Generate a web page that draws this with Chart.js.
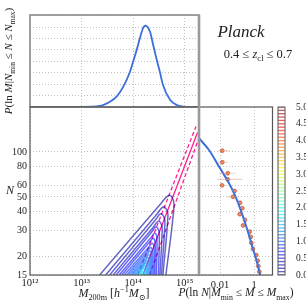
<!DOCTYPE html>
<html>
<head>
<meta charset="utf-8">
<script src="https://cdn.jsdelivr.net/npm/chart.js@4.4.1/dist/chart.umd.min.js"></script>
<style>
  html, body { margin: 0; padding: 0; background: #fff; }
  #wrap { position: relative; width: 306px; height: 306px; overflow: hidden;
          font-family: "Liberation Serif", "DejaVu Serif", serif; color: #222; }
  #wrap canvas { position: absolute; left: 0; top: 0; }
  .lbl { position: absolute; white-space: nowrap; line-height: 1; transform: translate(-50%, -50%); }
  .lbl sub, .lbl sup { font-size: 68%; line-height: 0; }
  .lbl i { font-style: italic; }
</style>
</head>
<body>
<div id="wrap">
  <canvas id="cTop" width="306" height="306"></canvas>
  <canvas id="cMain" width="306" height="306"></canvas>
  <canvas id="cSide" width="306" height="306"></canvas>
  <canvas id="cBar" width="306" height="306"></canvas>

  <div class="lbl" style="left:8px;top:61px;font-size:11px;transform:translate(-50%,-50%) rotate(-90deg)"><i>P</i>(ln <i>M</i>|<i>N</i><sub>min</sub> ≤ <i>N</i> ≤ <i>N</i><sub>max</sub>)</div>
  <div class="lbl" style="left:10px;top:190px;font-size:12px"><i>N</i></div>
  <div class="lbl" style="left:114px;top:293px;font-size:12px"><i>M</i><sub>200m</sub> [<i>h</i><sup>−1</sup><i>M</i><sub>⊙</sub>]</div>
  <div class="lbl" style="left:236px;top:293px;font-size:11.5px"><i>P</i>(ln <i>N</i>|<i>M</i><sub>min</sub> ≤ <i>M</i> ≤ <i>M</i><sub>max</sub>)</div>
  <div class="lbl" style="left:241px;top:31px;font-size:17px"><i>Planck</i></div>
  <div class="lbl" style="left:258px;top:54px;font-size:12.5px">0.4 ≤ <i>z</i><sub>cl</sub> ≤ 0.7</div>
</div>

<script>
// ---- data ----
const massTicks = [1e12, 1e13, 1e14, 1e15];
const massTickLabels = ["10¹²", "10¹³", "10¹⁴", "10¹⁵"];
const richTicks = [15, 20, 30, 40, 50, 60, 80, 100];
const probTicks = [0.01, 1];
const probTickLabels = ["0.01", "1"];
const cbarTicks = [0, 0.5, 1, 1.5, 2, 2.5, 3, 3.5, 4, 4.5, 5];
const cbarLevels = [0, 0.1, 0.2, 0.3, 0.4, 0.5, 0.6, 0.7, 0.8, 0.9, 1, 1.1, 1.2, 1.3, 1.4, 1.5, 1.6, 1.7, 1.8, 1.9,
  2, 2.1, 2.2, 2.3, 2.4, 2.5, 2.6, 2.7, 2.8, 2.9, 3, 3.1, 3.2, 3.3, 3.4, 3.5, 3.6, 3.7, 3.8, 3.9,
  4, 4.1, 4.2, 4.3, 4.4, 4.5, 4.6, 4.7, 4.8, 4.9, 5];

// top panel: P(ln M | N range)
const pdfLogM = [12.0, 13.0, 13.35, 13.55, 13.68, 13.81, 13.94, 14.0, 14.07, 14.14, 14.2, 14.24, 14.33, 14.39, 14.46, 14.52, 14.58, 14.72, 14.85, 14.97, 15.1, 15.3];
const pdfVal = [0, 0.001, 0.009, 0.046, 0.09, 0.178, 0.309, 0.396, 0.499, 0.615, 0.697, 0.711, 0.656, 0.542, 0.411, 0.306, 0.192, 0.061, 0.017, 0.004, 0, 0];

// main panel: contours of the joint distribution (log10 M, N)
const contourLevels = [0.1, 0.2, 0.3, 0.4, 0.5, 0.6, 0.7, 0.8, 0.9, 1.0, 1.1, 1.2, 1.3, 1.4, 1.5, 1.6, 1.7, 1.8];
const contourLogM = [
  [13.351, 14.540, 14.686, 14.764, 14.793, 14.637],
  [13.468, 14.472, 14.579, 14.647, 14.676, 14.579],
  [13.546, 14.433, 14.530, 14.589, 14.618, 14.550],
  [13.614, 14.400, 14.487, 14.540, 14.565, 14.520],
  [13.672, 14.361, 14.439, 14.485, 14.509, 14.491],
  [13.731, 14.357, 14.423, 14.462, 14.452],
  [13.780, 14.329, 14.390, 14.427, 14.423],
  [13.828, 14.316, 14.370, 14.404, 14.400],
  [13.877, 14.296, 14.345, 14.374, 14.374],
  [13.916, 14.281, 14.326, 14.353, 14.349],
  [13.955, 14.265, 14.306, 14.331, 14.326],
  [13.984, 14.250, 14.287, 14.308, 14.306],
  [14.014, 14.234, 14.267, 14.287, 14.283],
  [14.043, 14.218, 14.248, 14.265, 14.263],
  [14.072, 14.203, 14.228, 14.244, 14.244],
  [14.092, 14.185, 14.209, 14.222, 14.222],
  [14.121, 14.189, 14.209],
  [14.140, 14.174, 14.189]
];
const contourN = [
  [15, 45.2, 51.1, 49.2, 42.8, 15],
  [15, 38.7, 42.8, 41.2, 37.3, 15],
  [15, 35.0, 38.5, 37.2, 34.0, 15],
  [15, 31.6, 34.4, 33.3, 30.7, 15],
  [15, 29.1, 31.5, 30.5, 28.5, 15],
  [15, 27.0, 28.6, 26.3, 15],
  [15, 25.1, 26.4, 24.5, 15],
  [15, 23.3, 24.5, 22.8, 15],
  [15, 22.0, 22.9, 21.6, 15],
  [15, 20.9, 21.7, 20.5, 15],
  [15, 19.9, 20.6, 19.5, 15],
  [15, 19.0, 19.65, 18.76, 15],
  [15, 18.2, 18.76, 18.0, 15],
  [15, 17.6, 18.06, 17.4, 15],
  [15, 17.0, 17.38, 16.8, 15],
  [15, 16.4, 16.72, 16.1, 15],
  [15, 15.9, 15],
  [15, 15.4, 15]
];

// mean relation and its scatter (magenta)
const relLogM = [14.19, 15.25];
const relN = [15, 135];
const relUpLogM = [14.09, 15.22];
const relUpN = [15, 148];
const relLoLogM = [14.32, 15.28];
const relLoN = [15, 125];

// right panel: P(ln N | M range) model and measurements
const modelP = [5.75e-4, 2.24e-3, 8.7e-3, 0.0339, 0.083, 0.166, 0.407, 0.794, 1.55, 2.45];
const modelN = [123.5, 103, 79.8, 61.7, 50.1, 40.8, 30.0, 23.2, 18.0, 14.6];
const obsN = [102, 85.3, 72, 65.6, 59.8, 54.8, 50.1, 45.7, 42, 38.3, 35.1, 32.2, 29.3, 27, 24.6, 22.4, 20.4, 18.7, 17.2, 15.8];
const obsP = [0.0136, 0.0136, 0.0284, 0.0284, 0.0131, 0.0713, 0.058, 0.15, 0.205, 0.144, 0.296, 0.225, 0.558, 0.64, 0.694, 0.873, 1.36, 1.65, 1.79, 2.05];
const obsLo = [0.0076, 0.0076, 0.0087, 0.0067, 0.0087, 0.044, 0.0258, 0.1, 0.15, 0.1, 0.225, 0.172, 0.475, 0.546, 0.6, 0.76, 1.19, 1.45, 1.6, 1.83];
const obsHi = [0.034, 0.0295, 0.084, 0.197, 0.0225, 0.115, 0.115, 0.225, 0.276, 0.197, 0.387, 0.296, 0.667, 0.76, 0.79, 1.0, 1.56, 1.88, 1.98, 2.27];

// ---- styling helpers ----
const BLUE = "#3b6fdc";
const PINK = "#ff1f8e";
const GRID = { color: "#b4b4b4", lineWidth: 0.8, drawTicks: false };
const DOTS = { display: false, dash: [1, 2] };

Chart.defaults.font.family = '"Liberation Serif", "DejaVu Serif", serif';
Chart.defaults.font.size = 10;
Chart.defaults.color = "#222";

const clamp = (v) => Math.max(0, Math.min(1, v));
const jet = (level, alpha) => {
  const t = level / 5;
  const r = clamp(1.5 - Math.abs(4 * t - 3));
  const g = clamp(1.5 - Math.abs(4 * t - 2));
  const b = clamp(1.5 - Math.abs(4 * t - 1));
  return `rgba(${Math.round(r * 255)},${Math.round(g * 255)},${Math.round(b * 255)},${alpha})`;
};

const fixW = (w) => (s) => { s.width = w; };
const fixH = (h) => (s) => { s.height = h; };
const setTicks = (vals) => (s) => { s.ticks = vals.map((v) => ({ value: v })); };

// frame around each panel
const frame = (color, width) => ({
  id: "frame",
  afterDraw(chart) {
    const { ctx, chartArea: a } = chart;
    ctx.save();
    ctx.strokeStyle = color;
    ctx.lineWidth = width;
    ctx.strokeRect(a.left, a.top, a.right - a.left, a.bottom - a.top);
    ctx.restore();
  }
});

const base = (padding) => ({
  responsive: false,
  animation: false,
  events: [],
  layout: { padding, autoPadding: false },
  plugins: { legend: { display: false }, tooltip: { enabled: false } }
});

const pts = (xs, ys, fx) => xs.map((x, i) => ({ x: fx ? fx(x) : x, y: ys[i] }));
const pow10 = (v) => Math.pow(10, v);

const massAxis = (showLabels, h) => ({
  type: "logarithmic",
  min: 1e12,
  max: 1.9e15,
  afterBuildTicks: setTicks(massTicks),
  afterFit: fixH(h),
  grid: GRID,
  border: DOTS,
  ticks: {
    display: showLabels,
    autoSkip: false,
    maxRotation: 0,
    padding: 2,
    font: { size: 10.5 },
    callback: (v, i) => massTickLabels[i]
  }
});

const richAxis = (showLabels, w) => ({
  type: "logarithmic",
  min: 15,
  max: 200,
  afterBuildTicks: setTicks(richTicks),
  afterFit: fixW(w),
  grid: GRID,
  border: DOTS,
  ticks: { display: showLabels, autoSkip: false, padding: 3, callback: (v) => String(v) }
});

// ---- top panel ----
new Chart(document.getElementById("cTop"), {
  type: "scatter",
  data: {
    datasets: [{
      data: pts(pdfLogM, pdfVal, pow10),
      showLine: true,
      borderColor: BLUE,
      borderWidth: 1.8,
      pointRadius: 0,
      cubicInterpolationMode: "monotone"
    }]
  },
  options: {
    ...base({ top: 15, right: 107, bottom: 0, left: 0 }),
    scales: {
      x: massAxis(false, 199),
      y: {
        min: 0, max: 0.805,
        afterFit: fixW(30),
        grid: GRID, border: DOTS,
        ticks: { display: false, stepSize: 0.1 }
      }
    }
  },
  plugins: [frame("#8a8a8a", 1.6)]
});

// ---- main panel ----
const mainSets = [];
contourLevels.forEach((lvl, k) => {
  mainSets.push({
    data: pts(contourLogM[k], contourN[k], pow10),
    showLine: true,
    borderColor: jet(lvl, 0.6),
    borderWidth: 1.5,
    pointRadius: 0,
    tension: 0.4
  });
});
const relLine = (xs, ys, dash) => ({
  data: pts(xs, ys, pow10),
  showLine: true,
  borderColor: PINK,
  borderWidth: 1.3,
  borderDash: dash,
  pointRadius: 0
});
mainSets.push(relLine(relUpLogM, relUpN, [4, 2.5]));
mainSets.push(relLine(relLoLogM, relLoN, [4, 2.5]));
mainSets.push(relLine(relLogM, relN, []));

new Chart(document.getElementById("cMain"), {
  type: "scatter",
  data: { datasets: mainSets },
  options: {
    ...base({ top: 107, right: 107, bottom: 0, left: 0 }),
    scales: {
      x: massAxis(true, 31),
      y: richAxis(true, 30)
    }
  },
  plugins: [frame("#555", 1.2)]
});

// ---- right panel ----
const sideSets = [];
obsN.forEach((n, i) => {
  sideSets.push({
    data: [{ x: obsLo[i], y: n }, { x: obsHi[i], y: n }],
    showLine: true,
    borderColor: "rgba(240,150,110,0.45)",
    borderWidth: 1.2,
    pointRadius: 0
  });
});
sideSets.push({
  data: pts(modelP, modelN),
  showLine: true,
  borderColor: BLUE,
  borderWidth: 2,
  pointRadius: 0,
  cubicInterpolationMode: "monotone"
});
sideSets.push({
  data: pts(obsP, obsN),
  pointRadius: 1.9,
  pointBackgroundColor: "#e7845c",
  pointBorderColor: "#b4583a",
  pointBorderWidth: 0.7
});

new Chart(document.getElementById("cSide"), {
  type: "scatter",
  data: { datasets: sideSets },
  options: {
    ...base({ top: 107, right: 33.5, bottom: 0, left: 199 }),
    scales: {
      x: {
        type: "logarithmic",
        min: 5.8e-4, max: 12.2,
        afterBuildTicks: setTicks(probTicks),
        afterFit: fixH(31),
        grid: GRID, border: DOTS,
        ticks: { autoSkip: false, maxRotation: 0, padding: 4, font: { size: 10.5 }, callback: (v, i) => probTickLabels[i] }
      },
      y: richAxis(false, 0)
    }
  },
  plugins: [frame("#555", 1.2), {
    id: "sharedEdge",
    afterDraw(chart) {
      const { ctx, chartArea: a } = chart;
      ctx.save();
      ctx.strokeStyle = "#9a9a9a";
      ctx.lineWidth = 2.6;
      ctx.beginPath();
      ctx.moveTo(a.left, 15);
      ctx.lineTo(a.left, a.bottom);
      ctx.stroke();
      ctx.restore();
    }
  }]
});

// ---- colour bar ----
new Chart(document.getElementById("cBar"), {
  type: "scatter",
  data: {
    datasets: [{
      data: cbarLevels.map((v) => ({ x: 0.5, y: v })),
      pointStyle: "line",
      pointRadius: 3.6,
      pointBorderWidth: 1.4,
      pointBorderColor: cbarLevels.map((v) => jet(v, 0.6))
    }]
  },
  options: {
    ...base({ top: 107, right: 0, bottom: 31, left: 278 }),
    scales: {
      x: { display: false, min: 0, max: 1 },
      y: {
        position: "right",
        min: 0, max: 5,
        afterBuildTicks: setTicks(cbarTicks),
        afterFit: fixW(21),
        grid: { display: false },
        border: { display: false },
        ticks: { padding: 3, font: { size: 9.5 }, callback: (v) => v.toFixed(1) }
      }
    }
  },
  plugins: [frame("#555", 1)]
});
</script>
</body>
</html>
